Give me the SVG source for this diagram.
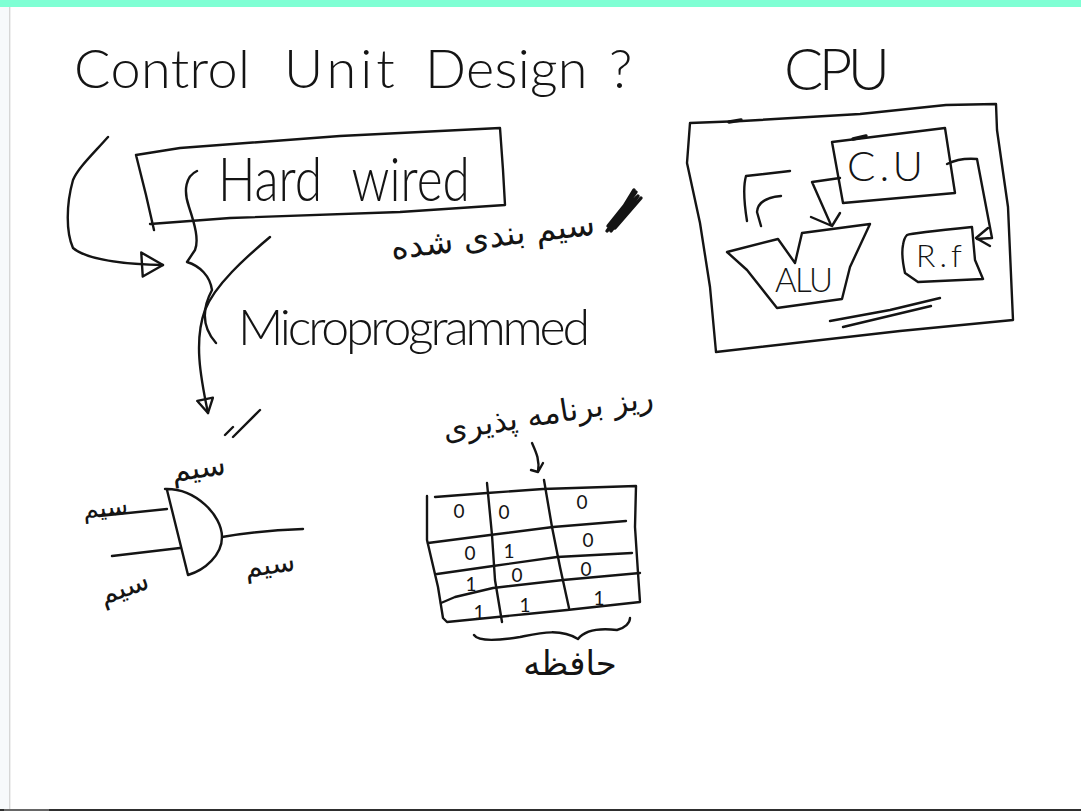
<svg xmlns="http://www.w3.org/2000/svg" width="1081" height="811" viewBox="0 0 1081 811">
<style>
.ink{fill:none;stroke:#141414;stroke-width:2.4;stroke-linecap:round;stroke-linejoin:round}
.thick{stroke-width:3.4}
.h{font-family:"Lato","Open Sans","Liberation Sans",sans-serif;font-weight:300;fill:#141414}
.fa{font-family:"DejaVu Sans","Noto Sans",sans-serif;fill:#141414;direction:rtl;text-anchor:middle}
.d{font-family:"Lato","Liberation Sans",sans-serif;font-size:19px;fill:#141414;text-anchor:middle}
</style>
<defs>
<marker id="tri" viewBox="0 0 26 28" refX="24" refY="14" markerWidth="26" markerHeight="28" markerUnits="userSpaceOnUse" orient="auto"><path d="M2,2 L24,14 L4,26 Z" fill="none" stroke="#141414" stroke-width="2.4" stroke-linejoin="round"/></marker>
<marker id="tri2" viewBox="0 0 18 18" refX="16" refY="9" markerWidth="18" markerHeight="18" markerUnits="userSpaceOnUse" orient="auto"><path d="M2,1 L16,9 L2,17 Z" fill="none" stroke="#141414" stroke-width="2.4" stroke-linejoin="round"/></marker>
</defs>
<rect width="1081" height="811" fill="#ffffff"/>
<rect x="0" y="0" width="9" height="811" fill="#f7f9fb"/>
<rect x="9" y="7" width="1.4" height="802" fill="#d6d6d6"/>
<rect x="0" y="0" width="1081" height="7" fill="#7fffd4"/>
<rect x="0" y="809" width="1081" height="2" fill="#2e2e2e"/>
<rect x="4" y="809" width="45" height="2" fill="#666666"/>

<g id="title">
<text class="h" y="88" font-size="54"><tspan x="74" letter-spacing="0.4">Control</tspan><tspan x="284" letter-spacing="4">Unit</tspan><tspan x="425" letter-spacing="0.3">Design</tspan><tspan x="609">?</tspan></text>
</g>

<g id="hardwired">
<path class="ink" d="M136,155 L180,148 L340,136 L500,128 L503,170 L505,205 L400,212 L230,218 L150,224 M136,155 L146,195 L154,230"/>
<text class="h" transform="translate(218,201) scale(0.8,1)" font-size="62"><tspan x="0">Hard</tspan> <tspan x="167">wired</tspan></text>
</g>

<g id="hardwired-note">
<text class="fa" x="493" y="247" font-size="33" transform="rotate(-7 493 238)">سیم بندی شده</text>
<path class="ink thick" d="M607,231 L636,192 M611,231 L638,196 M612,226 L634,190 M615,228 L641,198 M609,228 L630,200 M613,224 L637,197 M608,226 L632,196"/>
</g>

<g id="microprogrammed">
<text class="h" y="345" font-size="50" textLength="352" lengthAdjust="spacing" x="238">Microprogrammed</text>
<text class="fa" x="548" y="424" font-size="31" transform="rotate(-9 548 413)">ریز برنامه پذیری</text>
</g>

<g id="connectors">
<path class="ink" marker-end="url(#tri)" d="M108,137 C92,155 78,168 73,180 C66,205 66,232 73,248 C85,258 115,264 163,265"/>
<path class="ink" d="M197,171 C186,176 183,190 189,207 C195,225 199,240 195,250 L187,262 C200,266 210,276 212,290 C204,305 200,325 216,343"/>
<path class="ink" marker-end="url(#tri2)" d="M270,237 C245,258 215,285 205,310 C194,340 200,375 208,413"/>
<path class="ink" d="M840,178 L812,182 L831,225"/>
<path class="ink" d="M811,217 L832,226 L840,213"/>
<path class="ink" d="M947,164 C955,160 965,158 977,159 L992,238 L977,239"/>
<path class="ink" d="M988,228 L976,238 L990,246"/>
<path class="ink" d="M532,443 C536,452 540,460 538,472 L531,470 M538,472 L543,463"/>
</g>

<g id="cpu">
<text class="h" y="90" font-size="58" textLength="106" lengthAdjust="spacing" x="784">CPU</text>
<path class="ink" d="M690,123 L742,121 L860,114 L946,105 L996,104 L997,130 L1008,207 L1013,320 L900,331 L716,352 L710,287 L700,223 L687,163 Z"/>
<path class="ink thick" d="M729,122 L741,120"/>
<path class="ink" d="M790,171 L746,176 Q742,190 747,221"/>
<path class="ink" d="M781,196 Q758,198 757,212 L761,226"/>
<path class="ink" d="M830,321 L890,310 L940,298"/>
<path class="ink" d="M843,327 L931,306"/>
</g>

<g id="cu">
<path class="ink" d="M832,142 L945,128 L955,193 L843,203 Z"/>
<path class="ink thick" d="M853,139 L866,136"/>
<text class="h" x="847" y="181" font-size="42" textLength="76" lengthAdjust="spacing">C.U</text>
</g>

<g id="alu">
<path class="ink" d="M727,252 L778,239 L795,263 L802,233 L870,224 L850,267 L842,299 L777,308 L747,270 Z"/>
<text class="h" x="775" y="292" font-size="33" textLength="58" lengthAdjust="spacing">ALU</text>
</g>

<g id="rf">
<path class="ink" d="M907,235 Q912,233 972,227 L975,260 L983,279 L918,282 L905,273 Q901,255 903,245 Q904,238 907,235 Z"/>
<text class="h" x="916" y="267" font-size="32" textLength="46" lengthAdjust="spacing">R.f</text>
</g>

<g id="and-gate">
<path class="ink" d="M165,489 C195,488 222,515 222,537 C222,555 205,570 188,575 L167,490"/>
<path class="ink" d="M99,516 L167,509 M112,556 L180,548 M222,537 C245,533 275,530 303,529"/>
<path class="ink" d="M225,435 L233,427 M233,437 L260,410"/>
<text class="fa" x="198" y="478" font-size="30" transform="rotate(-8 198 465)">سیم</text>
<text class="fa" x="105" y="516" font-size="25" transform="rotate(-6 105 505)">سیم</text>
<text class="fa" x="123" y="597" font-size="28" transform="rotate(-20 123 585)">سیم</text>
<text class="fa" x="269" y="574" font-size="28" transform="rotate(-8 269 560)">سیم</text>
</g>

<g id="memory-table">
<path class="ink" d="M435,497 L487,493 L543,489 L636,486 L635,527 L638,573 L640,602 L567,610 L527,614 L447,622 L443,618 L438,587 L427,540 L427,496"/>
<path class="ink" d="M428,543 L490,535 L553,527 L626,521"/>
<path class="ink" d="M437,574 L493,566 L557,557 L632,553"/>
<path class="ink" d="M441,603 L455,597 L493,588 L563,580 L640,573"/>
<path class="ink" d="M487,483 L492,535 L495,580 L502,622"/>
<path class="ink" d="M544,480 L552,527 L560,567 L569,608"/>
<text class="d" x="459" y="518">0</text>
<text class="d" x="504" y="519">0</text>
<text class="d" x="582" y="509">0</text>
<text class="d" x="470" y="560">0</text>
<text class="d" x="509" y="558">1</text>
<text class="d" x="588" y="547">0</text>
<text class="d" x="471" y="591">1</text>
<text class="d" x="517" y="582">0</text>
<text class="d" x="586" y="576">0</text>
<text class="d" x="479" y="619">1</text>
<text class="d" x="525" y="612">1</text>
<text class="d" x="599" y="605">1</text>
<path class="ink" d="M474,635 C478,641 495,641 520,637 C540,633 560,628 578,639 C585,630 600,628 617,630 C625,628 630,623 630,618"/>
<text class="fa" x="570" y="675" font-size="34">حافظه</text>
</g>
</svg>
